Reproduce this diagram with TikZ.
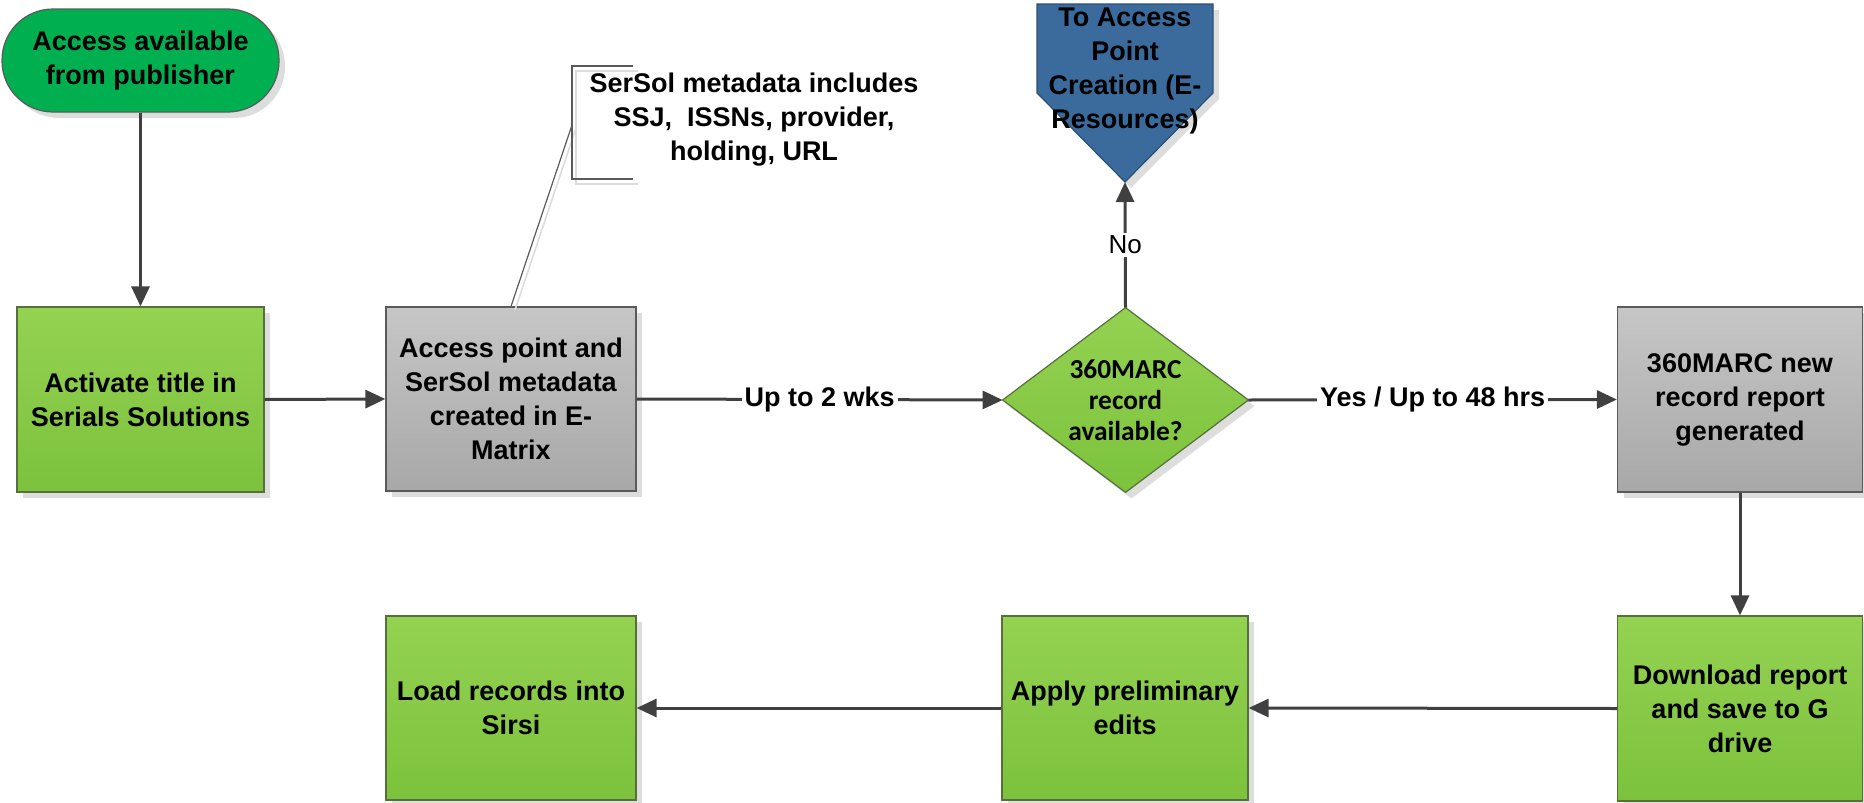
\documentclass[tikz,border=0pt]{standalone}
\usepackage{fontspec}
\setmainfont{Liberation Sans}
\newfontfamily\calibri{Carlito}
\usetikzlibrary{arrows.meta,shadows,backgrounds}
\definecolor{edgegray}{HTML}{404040}
\definecolor{gtop}{HTML}{94D252}
\definecolor{gbot}{HTML}{7CC23C}
\definecolor{gborder}{HTML}{55703A}
\definecolor{greytop}{HTML}{C6C6C6}
\definecolor{greybot}{HTML}{A8A8A8}
\definecolor{greyborder}{HTML}{5A5A5A}
\definecolor{termgreen}{HTML}{00B050}
\definecolor{offblue}{HTML}{3A6B9C}
\definecolor{offborder}{HTML}{2B4F75}
\definecolor{shadowgray}{HTML}{DDDDDD}
\begin{document}
\begin{tikzpicture}[x=0.5pt,y=-0.5pt,
  boxfont/.style={font=\bfseries\fontsize{13.5}{17}\selectfont},
  myshadow/.style={drop shadow={shadow xshift=3pt,shadow yshift=-3pt,fill=shadowgray,opacity=1}},
  basebox/.style={rectangle,inner sep=0pt,align=center,boxfont,line width=0.6pt,myshadow},
  greenbox/.style={basebox,draw=gborder,top color=gtop,bottom color=gbot},
  greybox/.style={basebox,draw=greyborder,top color=greytop,bottom color=greybot},
  flow/.style={draw=edgegray,line width=1.5pt,-{Triangle[length=10pt,width=9pt]}},
  elabel/.style={fill=white,inner sep=1.5pt,boxfont}
]
\useasboundingbox (0,0) rectangle (1864,803);

% terminal
\node[basebox,draw=greyborder,fill=termgreen,rounded corners=25.5pt,
      minimum width=138.5pt,minimum height=51.5pt] (term) at (140.5,60.5)
  {Access available\\from publisher};

% process boxes
\node[greenbox,minimum width=123.5pt,minimum height=92.5pt] (act) at (140.5,399.5)
  {Activate title in\\Serials Solutions};
\node[greybox,minimum width=125pt,minimum height=92pt] (acc) at (511,399)
  {Access point and\\SerSol metadata\\created in E-\\Matrix};
\node[greybox,minimum width=122.5pt,minimum height=92.5pt] (marc) at (1740,399.5)
  {360MARC new\\record report\\generated};
\node[greenbox,minimum width=122.5pt,minimum height=92.5pt] (dl) at (1740,708.5)
  {Download report\\and save to G\\drive};
\node[greenbox,minimum width=123pt,minimum height=92pt] (apply) at (1125,708)
  {Apply preliminary\\edits};
\node[greenbox,minimum width=125pt,minimum height=92pt] (load) at (511,708)
  {Load records into\\Sirsi};

% decision
\node[rectangle,inner sep=0pt,minimum width=122.5pt,minimum height=92pt,align=center,
      font=\calibri\bfseries\fontsize{13.7}{15.5}\selectfont] (dia) at (1125.5,400)
  {360MARC\\record\\available?};
\begin{scope}[on background layer]
  \draw[draw=gborder,line width=0.6pt,top color=gtop,bottom color=gbot,myshadow]
    (dia.north) -- (dia.east) -- (dia.south) -- (dia.west) -- cycle;
\end{scope}

% off-page reference
\coordinate (offtip) at (1125,182);
\draw[draw=offborder,line width=0.6pt,fill=offblue,myshadow]
  (1037,4) -- (1213,4) -- (1213,93) -- (offtip) -- (1037,93) -- cycle;
\node[align=center,boxfont,inner sep=0pt] (off) at (1125,71)
  {To Access\\Point\\Creation (E-\\Resources)};

% annotation
\coordinate (notelink) at (572,125);
\draw[shadowgray,line width=0.8pt] (638,71) -| (576,184) -- (638,184);
\draw[shadowgray,line width=0.8pt] (515,310) -- (576,128);
\draw[greyborder,line width=0.6pt] (633,66) -| (572,179) -- (633,179);
\draw[greyborder,line width=0.6pt] (acc.north) -- (notelink);
\node[align=center,boxfont,inner sep=0pt] (note) at (754,120)
  {SerSol metadata includes\\SSJ,\ \ ISSNs, provider,\\holding, URL};

% connectors
\draw[flow] (term.south) -- (act.north);
\draw[flow] (act.east) -- (acc.west);
\draw[flow] (acc.east) -- node[elabel] {Up to 2 wks} (dia.west);
\draw[flow] (dia.east) -- node[elabel] {Yes / Up to 48 hrs} (marc.west);
\draw[flow] (dia.north) -- node[fill=white,inner sep=1.5pt,font=\fontsize{13}{15}\selectfont] {No} (offtip);
\draw[flow] (marc.south) -- (dl.north);
\draw[flow] (dl.west) -- (apply.east);
\draw[flow] (apply.west) -- (load.east);
\end{tikzpicture}
\end{document}
